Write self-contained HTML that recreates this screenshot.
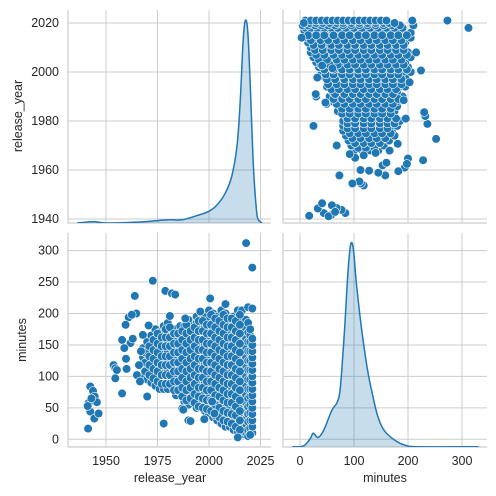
<!DOCTYPE html>
<html><head><meta charset="utf-8"><style>
html,body{margin:0;padding:0;background:#fff;}
svg{display:block;font-family:"Liberation Sans",sans-serif;}
</style></head><body>
<svg id="chart" width="496" height="496" viewBox="0 0 496 496"></svg>
<script>
// ---- data ----
const kdeYearX = [1936,1944,1950,1966.7,1975,1981,1987,1994,2000,2004,2008,2011,2013.6,2015.2,2016.5,2017.6,2018.8,2020,2021.4,2023,2024,2025.7];
const kdeYearD = [0,0.007,0,0.005,0.012,0.016,0.016,0.036,0.058,0.09,0.15,0.23,0.38,0.61,0.89,1.0,0.95,0.69,0.31,0.066,0.016,0];
const kdeMinX = [-14,0,9,19,24,28,34,44,59,69,75,82.5,89,94,99,105,114,125,134,144,156,175,194,219,331];
const kdeMinD = [0,0,0.008,0.04,0.066,0.058,0.046,0.082,0.18,0.22,0.30,0.58,0.87,1.0,0.97,0.79,0.58,0.38,0.26,0.15,0.08,0.033,0.008,0,0];
const denseYears = [1968,1970,1972,1974,1976,1978,1980,1982,1984,1986,1988,1990,1992,1994,1996,1998,2000,2002,2004,2006,2008,2010,2012,2014,2016,2017,2018,2019,2020,2021];
const denseMinutes = [
[100,115,130,145],[95,110,125,140,155],[90,105,120,135,150,165],[85,100,115,130,145,160,175],
[80,95,110,125,140,155,170],[80,95,110,125,140,155,170,180],[80,95,110,125,140,155,170,185],
[85,100,115,130,145,160,175],[70,85,100,115,130,145,160,175],[75,90,105,120,135,150,165,180],
[60,75,90,105,120,135,150,165,180],[55,70,85,100,115,130,145,160,175,190],[60,75,90,105,120,135,150,165,180],
[50,65,80,95,110,125,140,155,170,185,195],[55,70,85,100,115,130,145,160,175,190],
[45,60,75,90,105,120,135,150,165,180,195],[40,55,70,85,100,115,130,145,160,175,190,205],
[35,50,65,80,95,110,125,140,155,170,185,200],[30,45,60,75,90,105,120,135,150,165,180,195],
[25,40,55,70,85,100,115,130,145,160,175,190,205],[20,35,50,65,80,95,110,125,140,155,170,185,200],
[20,35,50,65,80,95,110,125,140,155,170,185],[15,30,45,60,75,90,105,120,135,150,165,180,195],
[12,25,40,55,70,85,100,115,130,145,160,175,190,205],[10,22,35,50,65,80,95,110,125,140,155,170,185,205],
[8,18,30,45,60,75,90,105,120,135,150,165,180],[10,20,32,45,58,70,85,100,115,130,145,160,175,190],
[5,15,28,40,52,65,80,95,110,125,140,155,170,185],[8,18,30,42,55,68,80,95,110,125,140,155,165,175],
[10,20,30,40,50,60,70,80,90,100,110,120,130,140,150,160]];
const fillYears = [1969,1971,1973,1975,1977,1979,1981,1983,1985,1987,1989,1991,1993,1995,1997,1999,2001,2003,2005,2007,2009,2011,2013,2015];
const fillMinutes = [
[108,122,138],[102,118,132,148],[97,112,128,142,158],[92,108,122,138,152,168],
[88,102,118,132,148,162],[88,102,118,132,148,162,175],[88,102,118,132,148,162,178],
[78,92,108,122,138,152,168],[78,92,108,122,138,152,168],[68,82,98,112,128,142,158,172],
[62,78,92,108,122,138,152,168,182],[65,82,98,112,128,142,158,172],[58,72,88,102,118,132,148,162,178],
[52,68,82,98,112,128,142,158,172,188],[50,65,82,98,112,128,142,158,172,188],
[48,62,78,92,108,122,138,152,168,182],[45,62,78,92,108,122,138,152,168,182,198],
[38,55,70,88,102,118,132,148,162,178,192],[35,50,68,82,98,112,128,142,158,172,188],
[30,45,62,78,92,108,122,138,152,168,182,198],[28,42,58,72,88,102,118,132,148,162,178,192],
[25,40,58,72,88,102,118,132,148,162,178,192],[20,38,52,68,82,98,112,128,142,158,172,188],
[15,30,45,62,78,92,108,122,138,152,168,182,198]];
const outlierPoints = [[2018,312],[2021,273],[1972.7,252],[1978.8,236],[1982,232],[1983.6,230],[1964,228],[2000.6,224],[2008,215],[2019,210],[2021,208],[1964.7,200],[1961,194],[1962.5,198],[1981,196],[1959.5,182],[1970.7,181],[1988.5,192],[1995.8,203],[1957.8,158],[1961.9,153],[1967.9,166],[1953.7,118],[1954.5,113],[1955.3,110],[1954.5,97],[1959.7,128],[1958.9,145],[1957.8,73],[1970,68],[1965,102],[1966.5,92],[1942.4,84],[1943.7,77],[1944.5,68],[1945.6,59],[1941.6,58],[1942.4,44],[1944.3,33],[1946.4,41],[1941.3,17],[1941.1,53],[1942.9,65],[1978,25],[1990,30],[1991,29],[1997.7,32],[1987,49],[1987.5,47],[2002.6,41],[2014,3],[2020,7],[2001.5,60],[1966,118],[1967,140],[1963,160],[1960,112]];
const yearTicks = [1940,1960,1980,2000,2020];
const yearXTicks = [1950,1975,2000,2025];
const minTicks = [0,50,100,150,200,250,300];
const minXTicks = [0,100,200,300];

// ---- scales ----
const xYear = y => 106 + (y - 1950) * 2.06;
const yYear = y => 23 + (2020 - y) * 2.45;
const yMin = m => 439.3 - m * 0.629;
const xMin = m => 300 + m * 0.54;
const P = {L1:68,R1:271,L2:283,R2:487,T1:10,B1:223,T2:233,B2:447};
const NS = "http://www.w3.org/2000/svg";
const svg = document.getElementById('chart');
function mk(tag, attrs, parent){ const e=document.createElementNS(NS,tag); for(const k in attrs) e.setAttribute(k,attrs[k]); (parent||svg).appendChild(e); return e; }

const panels = [
 {name:'panel-year-kde', L:P.L1,R:P.R1,T:P.T1,B:P.B1, gx:yearXTicks.map(xYear), gy:yearTicks.map(yYear)},
 {name:'panel-minutes-vs-year', L:P.L2,R:P.R2,T:P.T1,B:P.B1, gx:minXTicks.map(xMin), gy:yearTicks.map(yYear)},
 {name:'panel-year-vs-minutes', L:P.L1,R:P.R1,T:P.T2,B:P.B2, gx:yearXTicks.map(xYear), gy:minTicks.map(yMin)},
 {name:'panel-minutes-kde', L:P.L2,R:P.R2,T:P.T2,B:P.B2, gx:minXTicks.map(xMin), gy:minTicks.map(yMin)}
];
panels.forEach(p=>{
  const g = mk('g',{});
  
  
  p.g = g;
  const cid = 'clip-'+p.name;
  const cp = mk('clipPath',{id:cid},g); mk('rect',{x:p.L,y:p.T,width:p.R-p.L,height:p.B-p.T},cp);
  p.clip = 'url(#'+cid+')';
  p.gx.forEach(x=>{ const l=mk('line',{x1:x,x2:x,y1:p.T,y2:p.B,stroke:'#cccccc','stroke-width':1},g);   });
  p.gy.forEach(y=>{ const l=mk('line',{x1:p.L,x2:p.R,y1:y,y2:y,stroke:'#cccccc','stroke-width':1},g);   });
  const s1=mk('line',{x1:p.L,x2:p.L,y1:p.T,y2:p.B,stroke:'#cccccc','stroke-width':1.2},g);
   
  const s2=mk('line',{x1:p.L,x2:p.R,y1:p.B,y2:p.B,stroke:'#cccccc','stroke-width':1.2},g);
   
});

// smooth path via Catmull-Rom
function smooth(pts){
  let d = 'M'+pts[0][0].toFixed(1)+','+pts[0][1].toFixed(1);
  for(let i=0;i<pts.length-1;i++){
    const p0=pts[Math.max(0,i-1)], p1=pts[i], p2=pts[i+1], p3=pts[Math.min(pts.length-1,i+2)];
    const c1=[p1[0]+(p2[0]-p0[0])/6, p1[1]+(p2[1]-p0[1])/6];
    const c2=[p2[0]-(p3[0]-p1[0])/6, p2[1]-(p3[1]-p1[1])/6];
    d+=' C'+c1[0].toFixed(1)+','+c1[1].toFixed(1)+' '+c2[0].toFixed(1)+','+c2[1].toFixed(1)+' '+p2[0].toFixed(1)+','+p2[1].toFixed(1);
  }
  return d;
}
function kde(p, xs, ds, xf, base, peakY){
  const pts = xs.map((x,i)=>[xf(x), base - ds[i]*(base-peakY)]);
  const line = smooth(pts);
  const area = mk('path',{d:line+' L'+pts[pts.length-1][0]+','+base+' L'+pts[0][0]+','+base+' Z',fill:'#1f77b4','fill-opacity':0.25,stroke:'none','clip-path':p.clip},p.g);
   
  const ln = mk('path',{d:line,fill:'none',stroke:'#1f77b4','stroke-width':1.5,'stroke-linejoin':'round','clip-path':p.clip},p.g);
   
}
kde(panels[0], kdeYearX, kdeYearD, xYear, 223, 20.7);
kde(panels[3], kdeMinX, kdeMinD, xMin, 446.7, 244);

// scatter
const allPts = [];
denseYears.forEach((yr,i)=>denseMinutes[i].forEach(m=>allPts.push([yr,m])));
fillYears.forEach((yr,i)=>fillMinutes[i].forEach(m=>allPts.push([yr,m])));
outlierPoints.forEach(q=>allPts.push(q));
function dot(p, cx, cy){
  const c = mk('circle',{cx:cx.toFixed(1),cy:cy.toFixed(1),r:4.3,fill:'#1f77b4',stroke:'#ffffff','stroke-width':0.6,'clip-path':p.clip},p.g);
  
  
}
allPts.forEach(q=>dot(panels[2], xYear(q[0]), yMin(q[1])));
allPts.forEach(q=>dot(panels[1], xMin(q[1]), yYear(q[0])));

// tick labels
function txt(s, x, y, anchor, name, rot){
  const t = mk('text',{x:x,y:y,'text-anchor':anchor,'font-size':12.5,fill:'#262626','dominant-baseline':'central'});
  if(rot) t.setAttribute('transform','rotate(-90 '+x+' '+y+')');
  t.textContent = s;
  
  
}
yearTicks.forEach(v=>txt(String(v), 59, yYear(v), 'end', 'y-tick-label-year'));
minTicks.forEach(v=>txt(String(v), 59, yMin(v), 'end', 'y-tick-label-minutes'));
yearXTicks.forEach(v=>txt(String(v), xYear(v), 461, 'middle', 'x-tick-label-year'));
minXTicks.forEach(v=>txt(String(v), xMin(v), 461, 'middle', 'x-tick-label-minutes'));
txt('release_year', 18, 116, 'middle', 'y-axis-title-release-year', true);
txt('minutes', 22, 340, 'middle', 'y-axis-title-minutes', true);
txt('release_year', 170, 478, 'middle', 'x-axis-title-release-year');
txt('minutes', 385, 478, 'middle', 'x-axis-title-minutes');
</script>
</body></html>
